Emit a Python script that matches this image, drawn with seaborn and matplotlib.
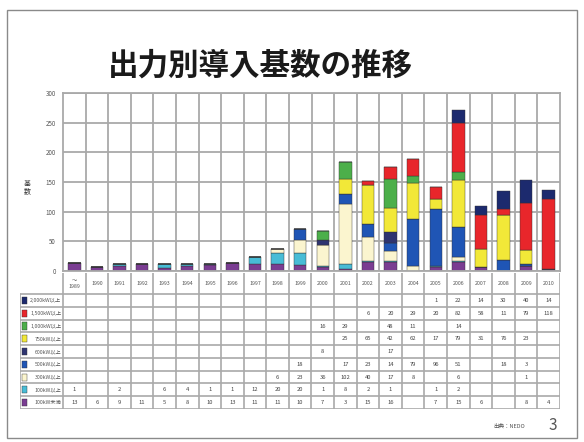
"""出力別導入基数の推移 - stacked bars with data table."""

import matplotlib.pyplot as plt
import numpy as np
import pandas as pd
import seaborn as sns
from matplotlib.patches import Rectangle

years = ["〜\n1989"] + [str(y) for y in range(1990, 2011)]

classes = [
    "2,000kW以上",
    "1,500kW以上",
    "1,000kW以上",
    "750kW以上",
    "600kW以上",
    "500kW以上",
    "300kW以上",
    "100kW以上",
    "100kW未満",
]
colors = [
    "#1c2a6e", "#e8262b", "#4caf4a", "#f2e838", "#2e3470",
    "#1f55b5", "#fbf5cf", "#48bcd6", "#7a3d92",
]

#            ~89 90 91 92 93 94 95 96 97 98 99 00  01  02  03  04  05  06  07  08  09  10
kw2000 =    [0, 0, 0, 0, 0, 0, 0, 0, 0, 0, 0, 0, 0, 0, 0, 0, 1, 22, 14, 30, 40, 14]
kw1500 =    [0, 0, 0, 0, 0, 0, 0, 0, 0, 0, 0, 0, 0, 6, 20, 29, 20, 82, 58, 11, 79, 118]
kw1000 =    [0, 0, 0, 0, 0, 0, 0, 0, 0, 0, 0, 16, 29, 0, 48, 11, 0, 14, 0, 0, 0, 0]
kw750 =     [0, 0, 0, 0, 0, 0, 0, 0, 0, 0, 0, 0, 25, 65, 42, 62, 17, 79, 31, 76, 23, 0]
kw600 =     [0, 0, 0, 0, 0, 0, 0, 0, 0, 0, 0, 8, 0, 0, 17, 0, 0, 0, 0, 0, 0, 0]
kw500 =     [0, 0, 0, 0, 0, 0, 0, 0, 0, 0, 18, 0, 17, 23, 14, 79, 96, 51, 0, 18, 3, 0]
kw300 =     [0, 0, 0, 0, 0, 0, 0, 0, 0, 6, 23, 36, 102, 40, 17, 8, 0, 6, 0, 0, 1, 0]
kw100 =     [1, 0, 2, 0, 6, 4, 1, 1, 12, 20, 20, 1, 8, 2, 1, 0, 1, 2, 0, 0, 0, 0]
kw_small =  [13, 6, 9, 11, 5, 8, 10, 13, 11, 11, 10, 7, 3, 15, 16, 0, 7, 15, 6, 0, 8, 4]

series = [kw2000, kw1500, kw1000, kw750, kw600, kw500, kw300, kw100, kw_small]

rows = []
for name, vals in zip(classes, series):
    for i, v in enumerate(vals):
        rows.append({"pos": i, "class": name, "count": v})
df = pd.DataFrame(rows)

sns.set_theme(style="white")
plt.rcParams["font.family"] = ["Noto Sans CJK JP", "DejaVu Sans"]

W, H = 584, 442
fig = plt.figure(figsize=(W / 100, H / 100), dpi=100)


def box(l, t, r, b):
    return [l / W, 1 - b / H, (r - l) / W, (b - t) / H]


grid_c = "#a9a9a9"

# chart
ax = fig.add_axes(box(63, 93, 560, 271))
sns.histplot(
    data=df, x="pos", weights="count", hue="class", hue_order=classes,
    palette=colors, multiple="stack", discrete=True, shrink=0.55,
    alpha=1, edgecolor="#333333", linewidth=0.3, legend=False, ax=ax,
)
ax.set_xlim(-0.5, len(years) - 0.5)
ax.set_ylim(0, 300)
ax.set_yticks(range(0, 301, 50))
ax.set_yticklabels([str(v) for v in range(0, 301, 50)], fontsize=4.5, color="#555555")
ax.set_xticks([])
ax.set_xticks(np.arange(0.5, len(years) - 1, 1), minor=True)
ax.tick_params(axis="both", which="both", length=0, pad=5)
ax.grid(axis="y", which="major", color=grid_c, lw=1.3)
ax.grid(axis="x", which="minor", color=grid_c, lw=1.3)
ax.set_axisbelow(True)
ax.set_xlabel("")
ax.set_ylabel("")
for s in ax.spines.values():
    s.set_color(grid_c)
    s.set_linewidth(1.3)

fig.text(27 / W, 1 - 188 / H, "基\n数", fontsize=5, ha="center", va="center",
         linespacing=1.0, color="#333333")

# data table
tab = fig.add_axes(box(20, 273, 560, 409))
lab_w = 43 / 22.6
hh = 21 / 12.7
n = len(years)
tab.set_xlim(-0.5 - lab_w, n - 0.5)
tab.set_ylim(hh + len(classes), 0)
tab.axis("off")
for k in range(n + 1):
    tab.plot([k - 0.5, k - 0.5], [0, hh + len(classes)], color=grid_c, lw=1.2)
tab.plot([-0.5 - lab_w, -0.5 - lab_w], [hh, hh + len(classes)], color=grid_c, lw=1.2)
for r in range(len(classes) + 1):
    tab.plot([-0.5 - lab_w, n - 0.5], [hh + r, hh + r], color=grid_c, lw=1.2)

for i, y in enumerate(years):
    tab.text(i, hh / 2, y, fontsize=3.8, ha="center", va="center",
             color="#555555", linespacing=1.1)

for r, (name, vals, c) in enumerate(zip(classes, series, colors)):
    yc = hh + r + 0.5
    tab.add_patch(Rectangle((-0.5 - lab_w + 0.08, yc - 0.28), 0.22, 0.56,
                            facecolor=c, edgecolor="#333333", lw=0.3))
    tab.text(-0.58, yc, name, fontsize=3.8, ha="right", va="center", color="#555555")
    for i, v in enumerate(vals):
        if v > 0:
            tab.text(i, yc, str(v), fontsize=4.2, ha="center", va="center",
                     color="#444444")

# title, footer, slide frame
fig.text(260 / W, 1 - 66 / H, "出力別導入基数の推移", fontsize=22, fontweight="bold",
         ha="center", va="center", color="#1a1a1a")
fig.text(525 / W, 1 - 426 / H, "出典：NEDO", fontsize=4, ha="right", va="center",
         color="#555555")
fig.text(553 / W, 1 - 425 / H, "3", fontsize=11, ha="center", va="center",
         color="#555555")
fig.patches.append(Rectangle((7 / W, 1 - 438 / H), 570 / W, 428 / H,
                             transform=fig.transFigure, fill=False,
                             edgecolor="#8a8a8a", lw=1.0))

plt.savefig("out.png", dpi=100)
